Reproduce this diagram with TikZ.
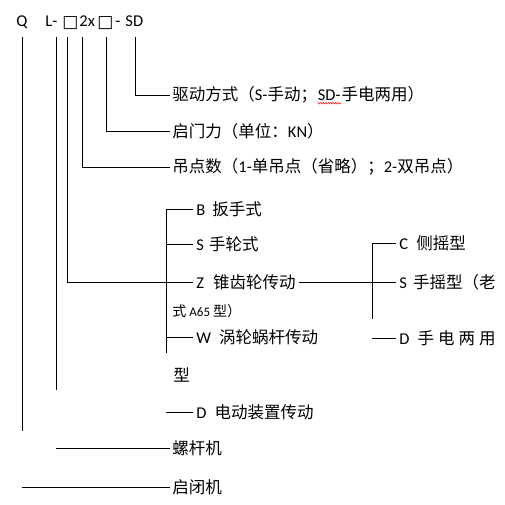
\documentclass[tikz,border=0pt]{standalone}
\usepackage{fontspec}
\setmainfont{Carlito}
\newfontfamily\cjkfont{Noto Sans CJK SC}
\newfontfamily\symfont{DejaVu Sans}
\usetikzlibrary{decorations.pathmorphing}
\newcommand\zhtxt[1]{{\cjkfont #1}}
\begin{document}
\begin{tikzpicture}[x=1pt,y=-1pt,line width=0.9pt,
  lbl/.style={inner xsep=2pt,inner ysep=0pt,anchor=west,font=\fontsize{16.5}{19}\selectfont},
  brlbl/.style={lbl,inner xsep=3pt},
  toptxt/.style={inner sep=0pt,anchor=base west,font=\fontsize{16.5}{19}\selectfont},
  boxglyph/.style={toptxt,font=\symfont\fontsize{17}{19}\selectfont},
  chain/.style={lbl,anchor=base west,inner xsep=0pt},
  wave/.style={red,line width=0.5pt,decorate,decoration={snake,amplitude=0.7pt,segment length=2.5pt}}]
\useasboundingbox (0,0) rectangle (504,505);
\fill[white] (0,0) rectangle (504,505);

% top code
\node[toptxt] (q) at (16,27) {Q};
\node[toptxt] (l) at (45,27) {L-};
\node[boxglyph] (b1) at (62,27.5) {□};
\node[toptxt] (twox) at (79,27) {2x};
\node[boxglyph] (b2) at (97,27.5) {□};
\node[toptxt] (dash) at (115,27) {-};
\node[toptxt] (sd) at (125,27) {SD};

\coordinate (qtop) at (22,37);
\coordinate (ltop) at (56,37);
\coordinate (b1top) at (67,37);
\coordinate (xtop) at (82,37);
\coordinate (b2top) at (106,37);
\coordinate (sdtop) at (135,37);
\coordinate (lend) at (56,390);
\coordinate (qend) at (22,431);
\coordinate (lgstart) at (56,448);
\coordinate (qbstart) at (22,487);
\coordinate (brtop) at (166,209);
\coordinate (brbot) at (166,353);
\coordinate (rtop) at (372,243);
\coordinate (rbot) at (372,319);

% upper labels
\node[lbl] (drv) at (170,95) {\zhtxt{驱动方式（}S-\zhtxt{手动；}};
\node[chain] (drvsd) at ([xshift=-2pt]drv.base east) {SD-};
\node[chain] (drv2) at (drvsd.base east) {\zhtxt{手电两用）}};
\draw[wave] ([yshift=-2.5pt]drvsd.base west) -- ([yshift=-2.5pt]drvsd.base east);
\node[lbl] (force) at (170,131) {\zhtxt{启门力（单位：}KN\zhtxt{）}};
\node[lbl] (lift) at (170,167) {\zhtxt{吊点数（}1-\zhtxt{单吊点（省略）；}2-\zhtxt{双吊点）}};

% bracket labels
\node[brlbl] (bb) at (193,209) {B\hspace{7pt}\zhtxt{扳手式}};
\node[brlbl] (ss) at (193,244) {S\hspace{5pt}\zhtxt{手轮式}};
\node[brlbl] (zz) at (193,282) {Z\hspace{9pt}\zhtxt{锥齿轮传动}};
\node[lbl,font=\fontsize{14}{17}\selectfont] (a65) at (170,311) {\zhtxt{式}\hspace{3pt}{\fontsize{13}{15}\selectfont A65}\hspace{3pt}\zhtxt{型）}};
\node[brlbl] (ww) at (193,337) {W\hspace{8pt}\zhtxt{涡轮蜗杆传动}};
\node[lbl] (xing) at (171,375) {\zhtxt{型}};
\node[brlbl] (dd) at (193,412) {D\hspace{8pt}\zhtxt{电动装置传动}};

% right bracket labels
\node[brlbl] (cc) at (396,243) {C\hspace{8pt}\zhtxt{侧摇型}};
\node[brlbl] (s2) at (396,282) {S\hspace{6pt}\zhtxt{手摇型（老}};
\node[brlbl] (d2) at (396,338) {D\hspace{8pt}\zhtxt{手\hspace{4pt}电\hspace{4pt}两\hspace{4pt}用}};

% bottom labels
\node[lbl] (luogan) at (170,448) {\zhtxt{螺杆机}};
\node[lbl] (qibi) at (170,487) {\zhtxt{启闭机}};

% connectors
\draw (sdtop) |- (drv.west);
\draw (b2top) |- (force.west);
\draw (xtop) |- (lift.west);
\draw (b1top) |- (zz.west);
\draw (ltop) -- (lend);
\draw (qtop) -- (qend);
\draw (brtop) -- (brbot);
\draw (brtop) -- (bb.west);
\draw (ss.west -| brtop) -- (ss.west);
\draw (ww.west -| brtop) -- (ww.west);
\draw (dd.west -| brtop) -- (dd.west);
\draw (zz.east) -- (s2.west);
\draw (rtop) -- (rbot);
\draw (rtop) -- (cc.west);
\draw (d2.west -| rtop) -- (d2.west);
\draw (lgstart) -- (luogan.west);
\draw (qbstart) -- (qibi.west);
\end{tikzpicture}
\end{document}
